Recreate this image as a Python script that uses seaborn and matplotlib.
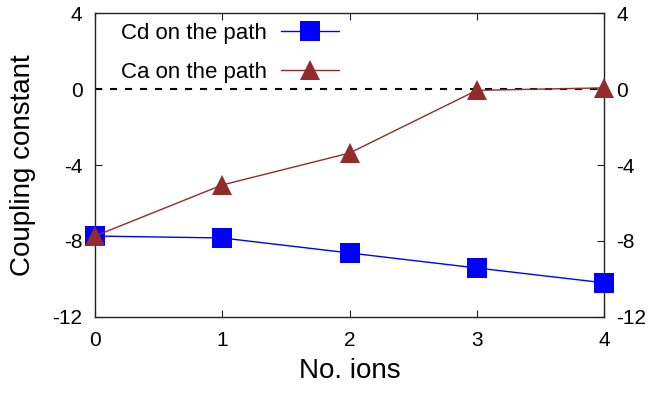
"""
coupling constant vs number of ions, two paths
"""

import pandas as pd
import seaborn as sbn
import matplotlib.pyplot as plt

ions = [0, 1, 2, 3, 4]
cd_path = [-7.74, -7.84, -8.63, -9.42, -10.2]
ca_path = [-7.74, -5.05, -3.37, -0.07, 0.06]
labels = ["Cd on the path", "Ca on the path"]

sbn.set_style("ticks")
plt.rcParams["font.family"] = ["Liberation Sans", "DejaVu Sans"]
plt.rcParams["axes.unicode_minus"] = False
plt.rcParams["text.color"] = "black"

df = pd.DataFrame({"ions": ions * 2,
                   "value": cd_path + ca_path,
                   "series": [labels[0]] * 5 + [labels[1]] * 5})

fig = plt.figure(figsize=(6.49, 3.93), dpi=100)
ax = fig.add_axes([0.1464, 0.1934, 0.7843, 0.7735])

ax.axhline(0, color="black", linestyle=(0, (3.4, 3.8)), linewidth=1.5, zorder=1)

sbn.lineplot(data=df, x="ions", y="value", hue="series", style="series",
             palette=["#0000ff", "#922b2b"], markers=["s", "^"], dashes=False,
             markersize=14, markeredgewidth=0, linewidth=1.0, ax=ax, zorder=3)
for ln in ax.get_lines():
    ln.set_clip_on(False)

ax.set_xlim(0, 4)
ax.set_ylim(-12, 4)
ax.set_xticks(ions)
ax.set_yticks([-12, -8, -4, 0, 4])
ax.tick_params(direction="in", length=5, width=0.8, labelsize=15,
               colors="#222222", labelcolor="black",
               top=True, right=True, labelright=True)
ax.tick_params(axis="x", pad=10)
ax.tick_params(axis="y", pad=9)
for s in ax.spines.values():
    s.set_linewidth(1.0)
    s.set_color("#222222")
ax.set_xlabel("No. ions", fontsize=20, labelpad=6, color="black")
ax.set_ylabel("Coupling constant", fontsize=20, labelpad=12, color="black")

leg = ax.legend(loc="upper left", frameon=False, fontsize=16, markerfirst=False,
                handlelength=2.6, handletextpad=0.63, labelspacing=0.78,
                borderaxespad=0.4, bbox_to_anchor=(0.016, 1.025))
plt.savefig("out.png", dpi=100)
